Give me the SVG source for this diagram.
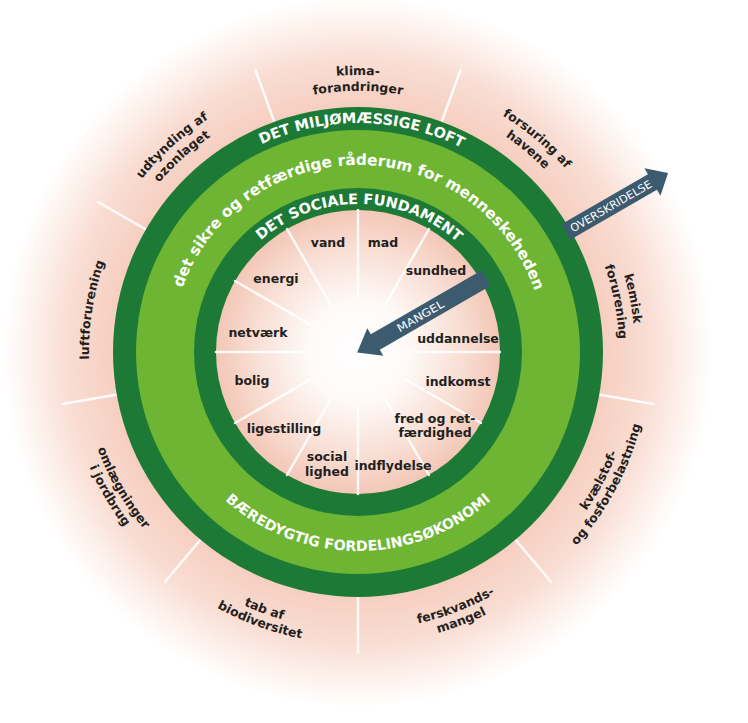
<svg xmlns="http://www.w3.org/2000/svg" width="748" height="723" viewBox="0 0 748 723">
<defs>
<radialGradient id="halo" gradientUnits="userSpaceOnUse" cx="358" cy="352" r="355">
<stop offset="0" stop-color="#ffffff"/>
<stop offset="0.6" stop-color="#f8dcd1"/>
<stop offset="0.69" stop-color="#f6cfc1"/>
<stop offset="0.82" stop-color="#f9ddd3"/>
<stop offset="0.92" stop-color="#fdf1ec"/>
<stop offset="1" stop-color="#ffffff"/>
</radialGradient>
<radialGradient id="core" gradientUnits="userSpaceOnUse" cx="358" cy="352" r="142">
<stop offset="0" stop-color="#ffffff"/>
<stop offset="0.35" stop-color="#fefaf8"/>
<stop offset="0.75" stop-color="#f8ddd2"/>
<stop offset="1" stop-color="#f3c7b7"/>
</radialGradient>
<path id="t277" d="M-260.3,-94.7 A277 277 0 0 1 260.3,-94.7"/>
<path id="t261" d="M-245.3,-89.3 A261 261 0 0 1 245.3,-89.3"/>
<path id="t269" d="M-252.8,-92 A269 269 0 0 1 252.8,-92"/>
<path id="b278" d="M-261.2,95.1 A278 278 0 0 0 261.2,95.1"/>
<path id="b292" d="M-274.4,99.9 A292 292 0 0 0 274.4,99.9"/>
<path id="rMil" d="M-215.2,-78.3 A229 229 0 0 1 215.2,-78.3"/>
<path id="rSik" d="M-186.3,-16.3 A187 187 0 0 1 186.3,-16.3"/>
<path id="rSoc" d="M-139.1,-50.6 A148 148 0 0 1 139.1,-50.6"/>
<path id="rBae" d="M-187,68.1 A199 199 0 0 0 187,68.1"/>
</defs>
<style>
.lbl{font-family:"DejaVu Sans",sans-serif;font-weight:700;font-size:12.5px;fill:#231f20;text-anchor:middle}
.ring{font-family:"DejaVu Sans",sans-serif;font-weight:700;fill:#ffffff;text-anchor:middle}
.spoke{stroke:#ffffff;stroke-width:2.5;stroke-linecap:round;opacity:0.9}
.arr{fill:#3d5b6e}
.arrtxt{font-family:"DejaVu Sans",sans-serif;font-size:11px;fill:#ffffff;text-anchor:middle}
</style>
<rect width="748" height="723" fill="#ffffff"/>
<circle cx="358" cy="352" r="355" fill="url(#halo)"/>
<g id="outer-spokes" class="spoke">
<line x1="273.9" y1="120.8" x2="255.4" y2="70"/>
<line x1="442.1" y1="120.8" x2="460.6" y2="70"/>
<line x1="600.3" y1="394.7" x2="653.4" y2="404.1"/>
<line x1="516.1" y1="540.4" x2="550.9" y2="581.8"/>
<line x1="358" y1="598" x2="358" y2="652"/>
<line x1="199.9" y1="540.4" x2="165.1" y2="581.8"/>
<line x1="115.7" y1="394.7" x2="62.6" y2="404.1"/>
<line x1="145" y1="229" x2="98.2" y2="202"/>
</g>
<g id="rings">
<circle cx="358" cy="352" r="245" fill="#1d7a36"/>
<circle cx="358" cy="352" r="222" fill="#6db532"/>
<circle cx="358" cy="352" r="164" fill="#1d7a36"/>
<circle cx="358" cy="352" r="142" fill="url(#core)"/>
</g>
<g id="inner-spokes" class="spoke">
<line x1="358" y1="297" x2="358" y2="210"/>
<line x1="385.5" y1="304.4" x2="429" y2="229"/>
<line x1="405.6" y1="324.5" x2="481" y2="281"/>
<line x1="413" y1="352" x2="500" y2="352"/>
<line x1="405.6" y1="379.5" x2="481" y2="423"/>
<line x1="385.5" y1="399.6" x2="429" y2="475"/>
<line x1="358" y1="407" x2="358" y2="494"/>
<line x1="330.5" y1="399.6" x2="287" y2="475"/>
<line x1="310.4" y1="379.5" x2="235" y2="423"/>
<line x1="303" y1="352" x2="216" y2="352"/>
<line x1="310.4" y1="324.5" x2="235" y2="281"/>
<line x1="330.5" y1="304.4" x2="287" y2="229"/>
</g>
<g transform="translate(358,352)">
<g id="ring-miljo" transform="rotate(1)"><text class="ring" font-size="14.5"><textPath href="#rMil" startOffset="50%">DET MILJØMÆSSIGE LOFT</textPath></text></g>
<g id="ring-sikre" transform="rotate(0.5)"><text class="ring" font-size="15.4"><textPath href="#rSik" startOffset="50%">det sikre og retfærdige råderum for menneskeheden</textPath></text></g>
<g id="ring-sociale" transform="rotate(0.5)"><text class="ring" font-size="14.5"><textPath href="#rSoc" startOffset="50%">DET SOCIALE FUNDAMENT</textPath></text></g>
<g id="ring-baeredygtig" transform="rotate(0)"><text class="ring" font-size="14.2"><textPath href="#rBae" startOffset="50%">BÆREDYGTIG FORDELINGSØKONOMI</textPath></text></g>
<g id="klimaforandringer" transform="rotate(0)">
<text class="lbl"><textPath href="#t277" startOffset="50%">klima-</textPath></text>
<text class="lbl"><textPath href="#t261" startOffset="50%">forandringer</textPath></text>
</g>
<g id="forsuring" transform="rotate(40)">
<text class="lbl"><textPath href="#t277" startOffset="50%">forsuring af</textPath></text>
<text class="lbl"><textPath href="#t261" startOffset="50%">havene</textPath></text>
</g>
<g id="kemisk" transform="rotate(79)">
<text class="lbl"><textPath href="#t277" startOffset="50%">kemisk</textPath></text>
<text class="lbl"><textPath href="#t261" startOffset="50%">forurening</textPath></text>
</g>
<g id="kvaelstof" transform="rotate(-62)">
<text class="lbl"><textPath href="#b278" startOffset="50%">kvælstof-</textPath></text>
<text class="lbl"><textPath href="#b292" startOffset="50%">og fosforbelastning</textPath></text>
</g>
<g id="ferskvand" transform="rotate(-21)">
<text class="lbl"><textPath href="#b278" startOffset="50%">ferskvands-</textPath></text>
<text class="lbl"><textPath href="#b292" startOffset="50%">mangel</textPath></text>
</g>
<g id="biodiversitet" transform="rotate(20)">
<text class="lbl"><textPath href="#b278" startOffset="50%">tab af</textPath></text>
<text class="lbl"><textPath href="#b292" startOffset="50%">biodiversitet</textPath></text>
</g>
<g id="jordbrug" transform="rotate(60)">
<text class="lbl"><textPath href="#b278" startOffset="50%">omlægninger</textPath></text>
<text class="lbl"><textPath href="#b292" startOffset="50%">i jordbrug</textPath></text>
</g>
<g id="luftforurening" transform="rotate(-81)">
<text class="lbl"><textPath href="#t269" startOffset="50%">luftforurening</textPath></text>
</g>
<g id="ozonlaget" transform="rotate(-42)">
<text class="lbl"><textPath href="#t277" startOffset="50%">udtynding af</textPath></text>
<text class="lbl"><textPath href="#t261" startOffset="50%">ozonlaget</textPath></text>
</g>
</g>
<g id="social-labels">
<g id="vand"><text class="lbl" x="328" y="246.5">vand</text></g>
<g id="mad"><text class="lbl" x="383" y="246.5">mad</text></g>
<g id="sundhed"><text class="lbl" x="436" y="274.5">sundhed</text></g>
<g id="uddannelse"><text class="lbl" x="458" y="342.5">uddannelse</text></g>
<g id="indkomst"><text class="lbl" x="458" y="385.5">indkomst</text></g>
<g id="fred"><text class="lbl" x="435" y="422.5">fred og ret-</text><text class="lbl" x="435" y="436.5">færdighed</text></g>
<g id="indflydelse"><text class="lbl" x="393" y="469.5">indflydelse</text></g>
<g id="social-lighed"><text class="lbl" x="327" y="461">social</text><text class="lbl" x="327" y="476">lighed</text></g>
<g id="ligestilling"><text class="lbl" x="284" y="433">ligestilling</text></g>
<g id="bolig"><text class="lbl" x="252" y="384.5">bolig</text></g>
<g id="netvaerk"><text class="lbl" x="258" y="336.5">netværk</text></g>
<g id="energi"><text class="lbl" x="276" y="282.5">energi</text></g>
</g>
<g id="connectors" transform="translate(358,352) rotate(-30)">
<g id="overskridelse">
<path class="arr" d="M240,-9 H340 V-16 L358,0 L340,16 V9 H240 Z"/>
<text class="arrtxt" x="292" y="4" textLength="92" lengthAdjust="spacingAndGlyphs">OVERSKRIDELSE</text>
</g>
<g id="mangel">
<path class="arr" d="M148,-9 H20 V-16 L-1,0 L20,16 V9 H148 Z"/>
<text class="arrtxt" x="72" y="4" textLength="52" lengthAdjust="spacingAndGlyphs">MANGEL</text>
</g>
</g>
</svg>
